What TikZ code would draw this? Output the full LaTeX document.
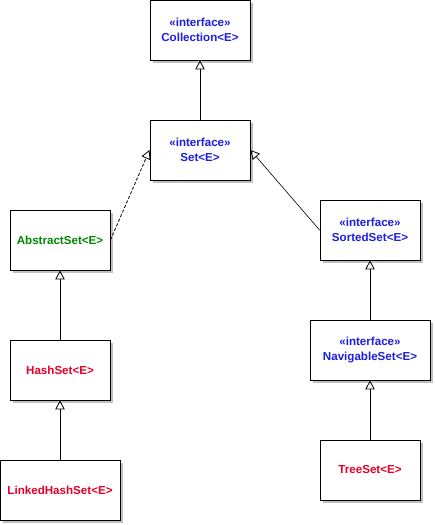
\documentclass[tikz,border=0pt]{standalone}
\usepackage{fontspec}
\setmainfont{Liberation Sans}
\usetikzlibrary{arrows.meta,shadows}
\definecolor{ifblue}{RGB}{30,30,225}
\definecolor{absgreen}{RGB}{0,135,0}
\definecolor{clsred}{RGB}{228,0,40}
\definecolor{shadowgray}{RGB}{192,192,192}
\tikzset{
  umlbox/.style={draw=black, line width=0.9pt, fill=white, rectangle,
    minimum height=60pt, minimum width=100pt, inner sep=0pt, align=center,
    font=\fontsize{11.6}{15.5}\selectfont\bfseries,
    general shadow={fill=shadowgray, shadow xshift=3pt, shadow yshift=-3pt}},
  wide/.style={minimum width=120pt},
  iface/.style={umlbox, text=ifblue},
  abscls/.style={umlbox, text=absgreen},
  cls/.style={umlbox, text=clsred},
  inh/.style={line width=0.8pt, -{Triangle[open, width=9.5pt, length=9pt, line width=0.8pt]}},
  impl/.style={inh, dashed, dash pattern=on 3pt off 2pt}
}
\begin{document}
\begin{tikzpicture}[x=1pt,y=-1pt]
\useasboundingbox (0,0) rectangle (435,525);
\node[iface] (coll) at (200,30) {«interface»\\Collection<E>};
\node[iface] (set) at (200,150) {«interface»\\Set<E>};
\node[abscls] (abs) at (60,240) {AbstractSet<E>};
\node[iface] (sorted) at (370,230) {«interface»\\SortedSet<E>};
\node[iface, wide] (nav) at (370,350) {«interface»\\NavigableSet<E>};
\node[cls] (hash) at (60,370) {HashSet<E>};
\node[cls, wide] (linked) at (60,490) {LinkedHashSet<E>};
\node[cls] (tree) at (370,470) {TreeSet<E>};
\draw[inh] (set) -- (coll);
\draw[impl] (abs.east) -- (set.west);
\draw[inh, line width=0.6pt] (sorted.west) -- (set.east);
\draw[inh] (nav) -- (sorted);
\draw[inh] (hash) -- (abs);
\draw[inh] (linked) -- (hash);
\draw[inh] (tree) -- (nav);
\end{tikzpicture}
\end{document}
